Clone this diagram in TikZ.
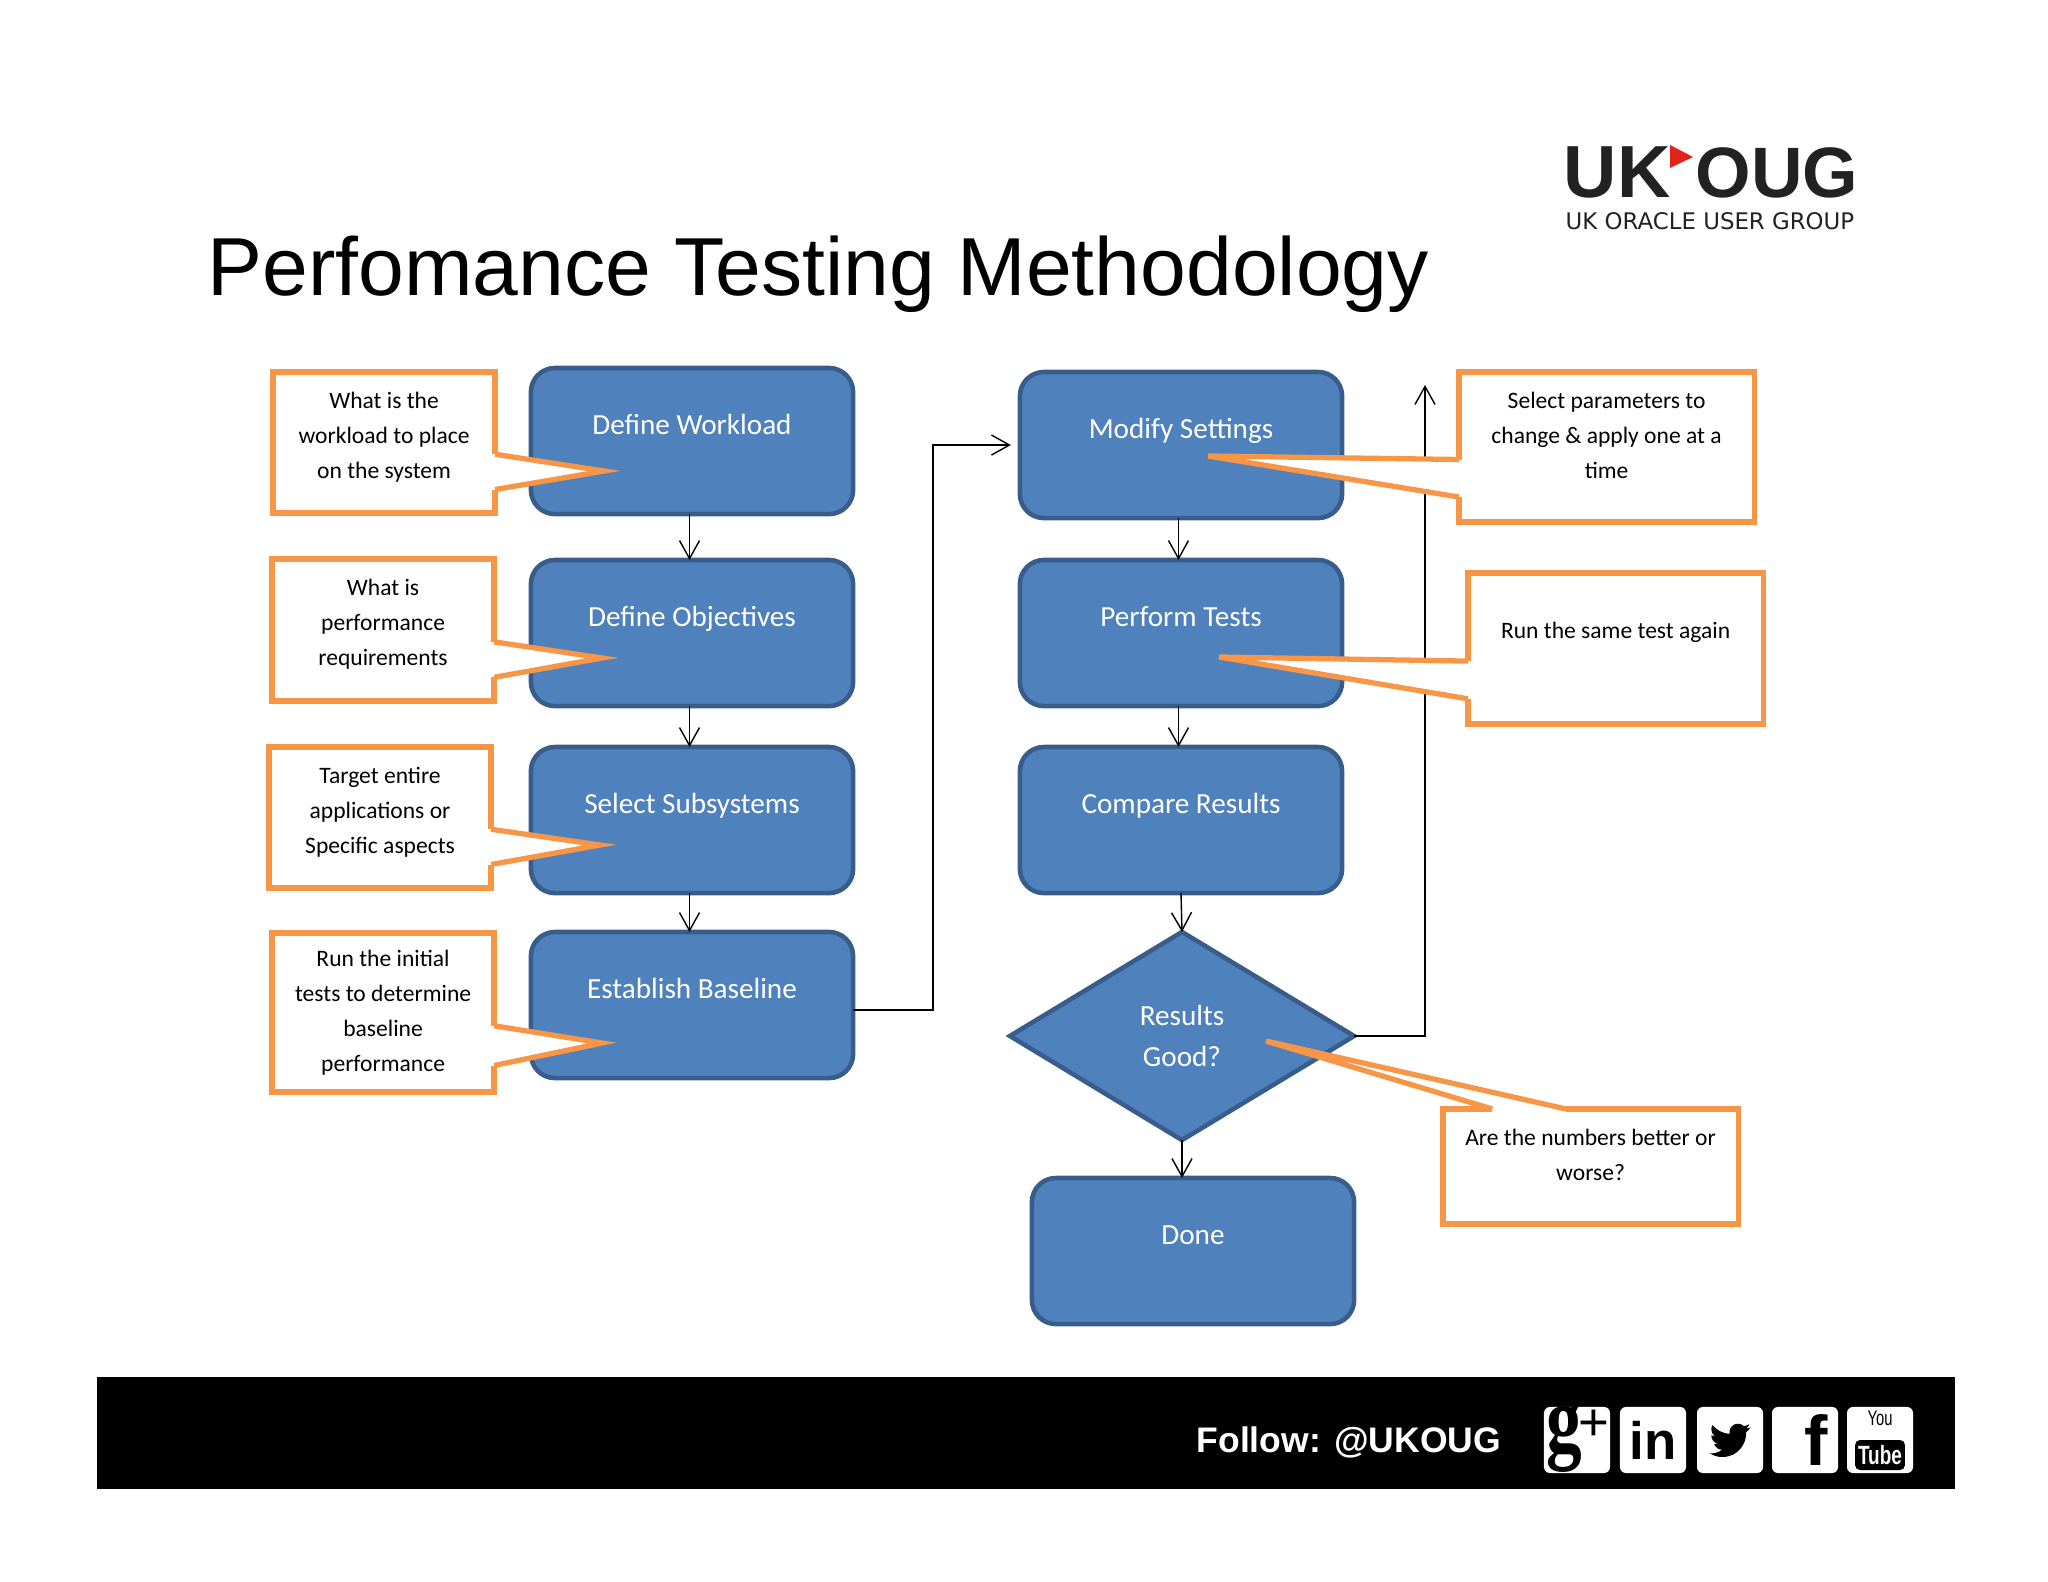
\documentclass[tikz,border=0pt]{standalone}
\usepackage{fontspec}
\setmainfont{Carlito}
\newfontfamily\arialfont{Liberation Sans}
\newfontfamily\logofont{DejaVu Sans}
\newfontfamily\serifgfont{Liberation Serif}
\usetikzlibrary{shapes.geometric,arrows.meta,calc}
\definecolor{boxblue}{HTML}{4F81BD}
\definecolor{boxedge}{HTML}{385D8A}
\definecolor{calloutorange}{HTML}{F79646}
\definecolor{logored}{HTML}{E2231A}
\definecolor{logoblack}{HTML}{222222}
\tikzset{
  bluebox/.style={draw=boxedge,fill=boxblue,text=white,line width=1.3pt,rounded corners=.24cm,
    minimum width=3.22cm,inner sep=0,outer sep=0,anchor=north,text height=.66cm,text depth=.80cm,
    font=\fontsize{8.3}{11.4}\selectfont,align=center},
  callbox/.style={draw=calloutorange,fill=white,line width=1.5pt,inner sep=0,outer sep=0,anchor=north west,
    text height=1.06cm,text depth=#1,font=\fontsize{6.7}{9.96}\selectfont,align=center},
  pointer/.style={draw=calloutorange,fill=white,line width=1.5pt,line join=miter,line cap=square},
  flow/.style={draw=black,line width=.4pt,-{Straight Barb[length=.18cm,width=.2cm]}},
  iconbox/.style={fill=white,rounded corners=.06cm,minimum size=.66cm,inner sep=0,text=black}
}
\begin{document}
\begin{tikzpicture}[x=.01cm,y=-.01cm]
  \useasboundingbox (0,0) rectangle (2048,1582);
  \node (title) [anchor=base west,inner sep=0,font=\arialfont\fontsize{23.4}{28}\selectfont] at (207,296) {Perfomance Testing Methodology};
  % logo
  \node (uk) [anchor=base west,inner sep=0,text=logoblack,font=\arialfont\bfseries\fontsize{21}{24}\selectfont] at (1563,198) {UK};
  \node (oug) [anchor=base west,inner sep=0,text=logoblack,font=\arialfont\bfseries\fontsize{20.3}{24}\selectfont] at (1695,198) {OUG};
  \fill[logored] (1670,145) -- (1693,157) -- (1670,168) -- cycle;
  \node (ukname) [anchor=base west,inner sep=0,text=logoblack,font=\logofont\fontsize{6.5}{8}\selectfont] at (1565,230) {UK ORACLE USER GROUP};
  % flow boxes
  \node (workload) [bluebox] at (692,368) {Define Workload};
  \node (objectives) [bluebox] at (692,560) {Define Objectives};
  \node (subsystems) [bluebox] at (692,747) {Select Subsystems};
  \node (baseline) [bluebox] at (692,932) {Establish Baseline};
  \node (modify) [bluebox] at (1181,372) {Modify Settings};
  \node (perform) [bluebox] at (1181,560) {Perform Tests};
  \node (compare) [bluebox] at (1181,747) {Compare Results};
  \node (results) [diamond,draw=boxedge,fill=boxblue,text=white,line width=1.3pt,inner sep=0,outer sep=0,
    minimum width=3.44cm,minimum height=2.08cm,aspect=1.66,align=center,
    font=\fontsize{8.3}{11.4}\selectfont] at (1182,1036) {Results\\Good?};
  \node (done) [bluebox] at (1193,1178) {Done};
  \coordinate (looptop) at (1425,385);
  \foreach \from/\to in {workload/objectives,objectives/subsystems,subsystems/baseline,modify/perform,perform/compare}
    \draw[flow] ([xshift=-.025cm]\from.south) -- ([xshift=-.025cm]\to.north);
  \draw[flow] (compare.south) -- (results.north);
  \draw[flow] (results.south) -- (results.south |- done.north);
  \draw[flow,shorten >=.09cm] ([yshift=-.05cm]baseline.east) -- ++(80,0) |- (modify.west);
  \draw[flow] (results.east) -| (looptop);
  % callouts
  \node (c1) [callbox=.35cm,minimum width=2.22cm] at (273,372) {What is the\\workload to place\\on the system};
  \node (c2) [callbox=.36cm,minimum width=2.22cm] at (272,559) {What is\\performance\\requirements};
  \node (c3) [callbox=.35cm,minimum width=2.22cm] at (269,747) {Target entire\\applications or\\Specific aspects};
  \node (c4) [callbox=.21cm,minimum width=2.22cm,text height=1.38cm] at (272,933) {Run the initial\\tests to determine\\baseline\\performance};
  \node (c5) [callbox=.44cm,minimum width=2.95cm] at (1459,372) {Select parameters to\\change \& apply one at a\\time};
  \node (c6) [callbox=.86cm,minimum width=2.95cm,text height=.65cm] at (1468,573) {Run the same test again};
  \node (c7) [callbox=.44cm,minimum width=2.95cm,text height=.71cm] at (1443,1109) {Are the numbers better or\\worse?};
  \coordinate (tip1) at (604,471);
  \coordinate (tip2) at (602,658);
  \coordinate (tip3) at (600,845);
  \coordinate (tip4) at (602,1043);
  \coordinate (tip5) at (1208,456);
  \coordinate (tip6) at (1219,657);
  \coordinate (tip7) at (1266,1041);
  \foreach \from/\num/\p/\q/\a/\b in {c1/1/north east/south east/.583/.833,c2/2/north east/south east/.583/.833,
    c3/3/north east/south east/.583/.833,c4/4/north east/south east/.583/.833,c5/5/north west/south west/.583/.833,
    c6/6/north west/south west/.583/.833,c7/7/north west/north east/.167/.417} {
    \draw[white,line width=1.7pt] ($(\from.\p)!\a!(\from.\q)$) -- ($(\from.\p)!\b!(\from.\q)$);
    \filldraw[pointer] ($(\from.\p)!\a!(\from.\q)$) -- (tip\num) -- ($(\from.\p)!\b!(\from.\q)$);
  }
  % footer
  \fill[black] (97,1377) rectangle (1955,1489);
  \node (follow) [anchor=base west,inner sep=0,text=white,font=\arialfont\bfseries\fontsize{10.1}{12}\selectfont] at (1196,1452) {Follow: @UKOUG};
  \node (gplus) [iconbox] at (1577,1440) {};
  \node (gletter) [inner sep=0,font=\serifgfont\bfseries\fontsize{27}{27}\selectfont] at (1564,1438) {\scalebox{.75}[1]{g}};
  \node (gcross) [inner sep=0,font=\arialfont\fontsize{15}{15}\selectfont] at (1594,1425) {+};
  \node (linkedin) [iconbox,font=\arialfont\bfseries\fontsize{15}{15}\selectfont] at (1653,1440) {in};
  \node (twitter) [iconbox] at (1730,1440) {};
  \begin{scope}[shift={(twitter.center)},x=.017cm,y=-.017cm,shift={(-12,-12)}]
    \fill[black] (24,4.6) .. controls (23.1,5) and (22.1,5.3) .. (21.2,5.4) .. controls (22.2,4.8) and (23,3.8) .. (23.4,2.7)
      .. controls (22.4,3.3) and (21.3,3.7) .. (20.2,3.9) .. controls (19.3,3) and (18,2.4) .. (16.6,2.4)
      .. controls (13.4,2.4) and (11.1,5.4) .. (11.8,8.4) .. controls (7.7,8.2) and (4.1,6.2) .. (1.7,3.2)
      .. controls (0.4,5.4) and (1,8.3) .. (3.2,9.8) .. controls (2.4,9.8) and (1.6,9.5) .. (1,9.2)
      .. controls (0.9,11.5) and (2.6,13.7) .. (4.9,14.2) .. controls (4.2,14.4) and (3.4,14.4) .. (2.7,14.3)
      .. controls (3.3,16.3) and (5.2,17.7) .. (7.3,17.7) .. controls (5.2,19.4) and (2.6,20.1) .. (0,19.8)
      .. controls (2.2,21.2) and (4.8,22) .. (7.5,22) .. controls (16.6,22) and (21.8,14.3) .. (21.5,7.4)
      .. controls (22.5,6.7) and (23.3,5.7) .. (24,4.6) -- cycle;
  \end{scope}
  \node (facebook) [iconbox,font=\arialfont\bfseries\fontsize{20}{20}\selectfont] at (1805,1440) {\hspace{.22cm}f};
  \node (youtube) [iconbox] at (1880,1440) {};
  \node (ytyou) [inner sep=0,font=\arialfont\fontsize{6}{6}\selectfont] at (1880,1418) {\scalebox{.7}[1]{You}};
  \node (yttube) [fill=black,text=white,rounded corners=.05cm,inner xsep=.03cm,inner ysep=0,minimum height=.3cm,font=\arialfont\bfseries\fontsize{7.5}{7.5}\selectfont] at (1880,1455) {\scalebox{.72}[1]{Tube}};
\end{tikzpicture}
\end{document}
